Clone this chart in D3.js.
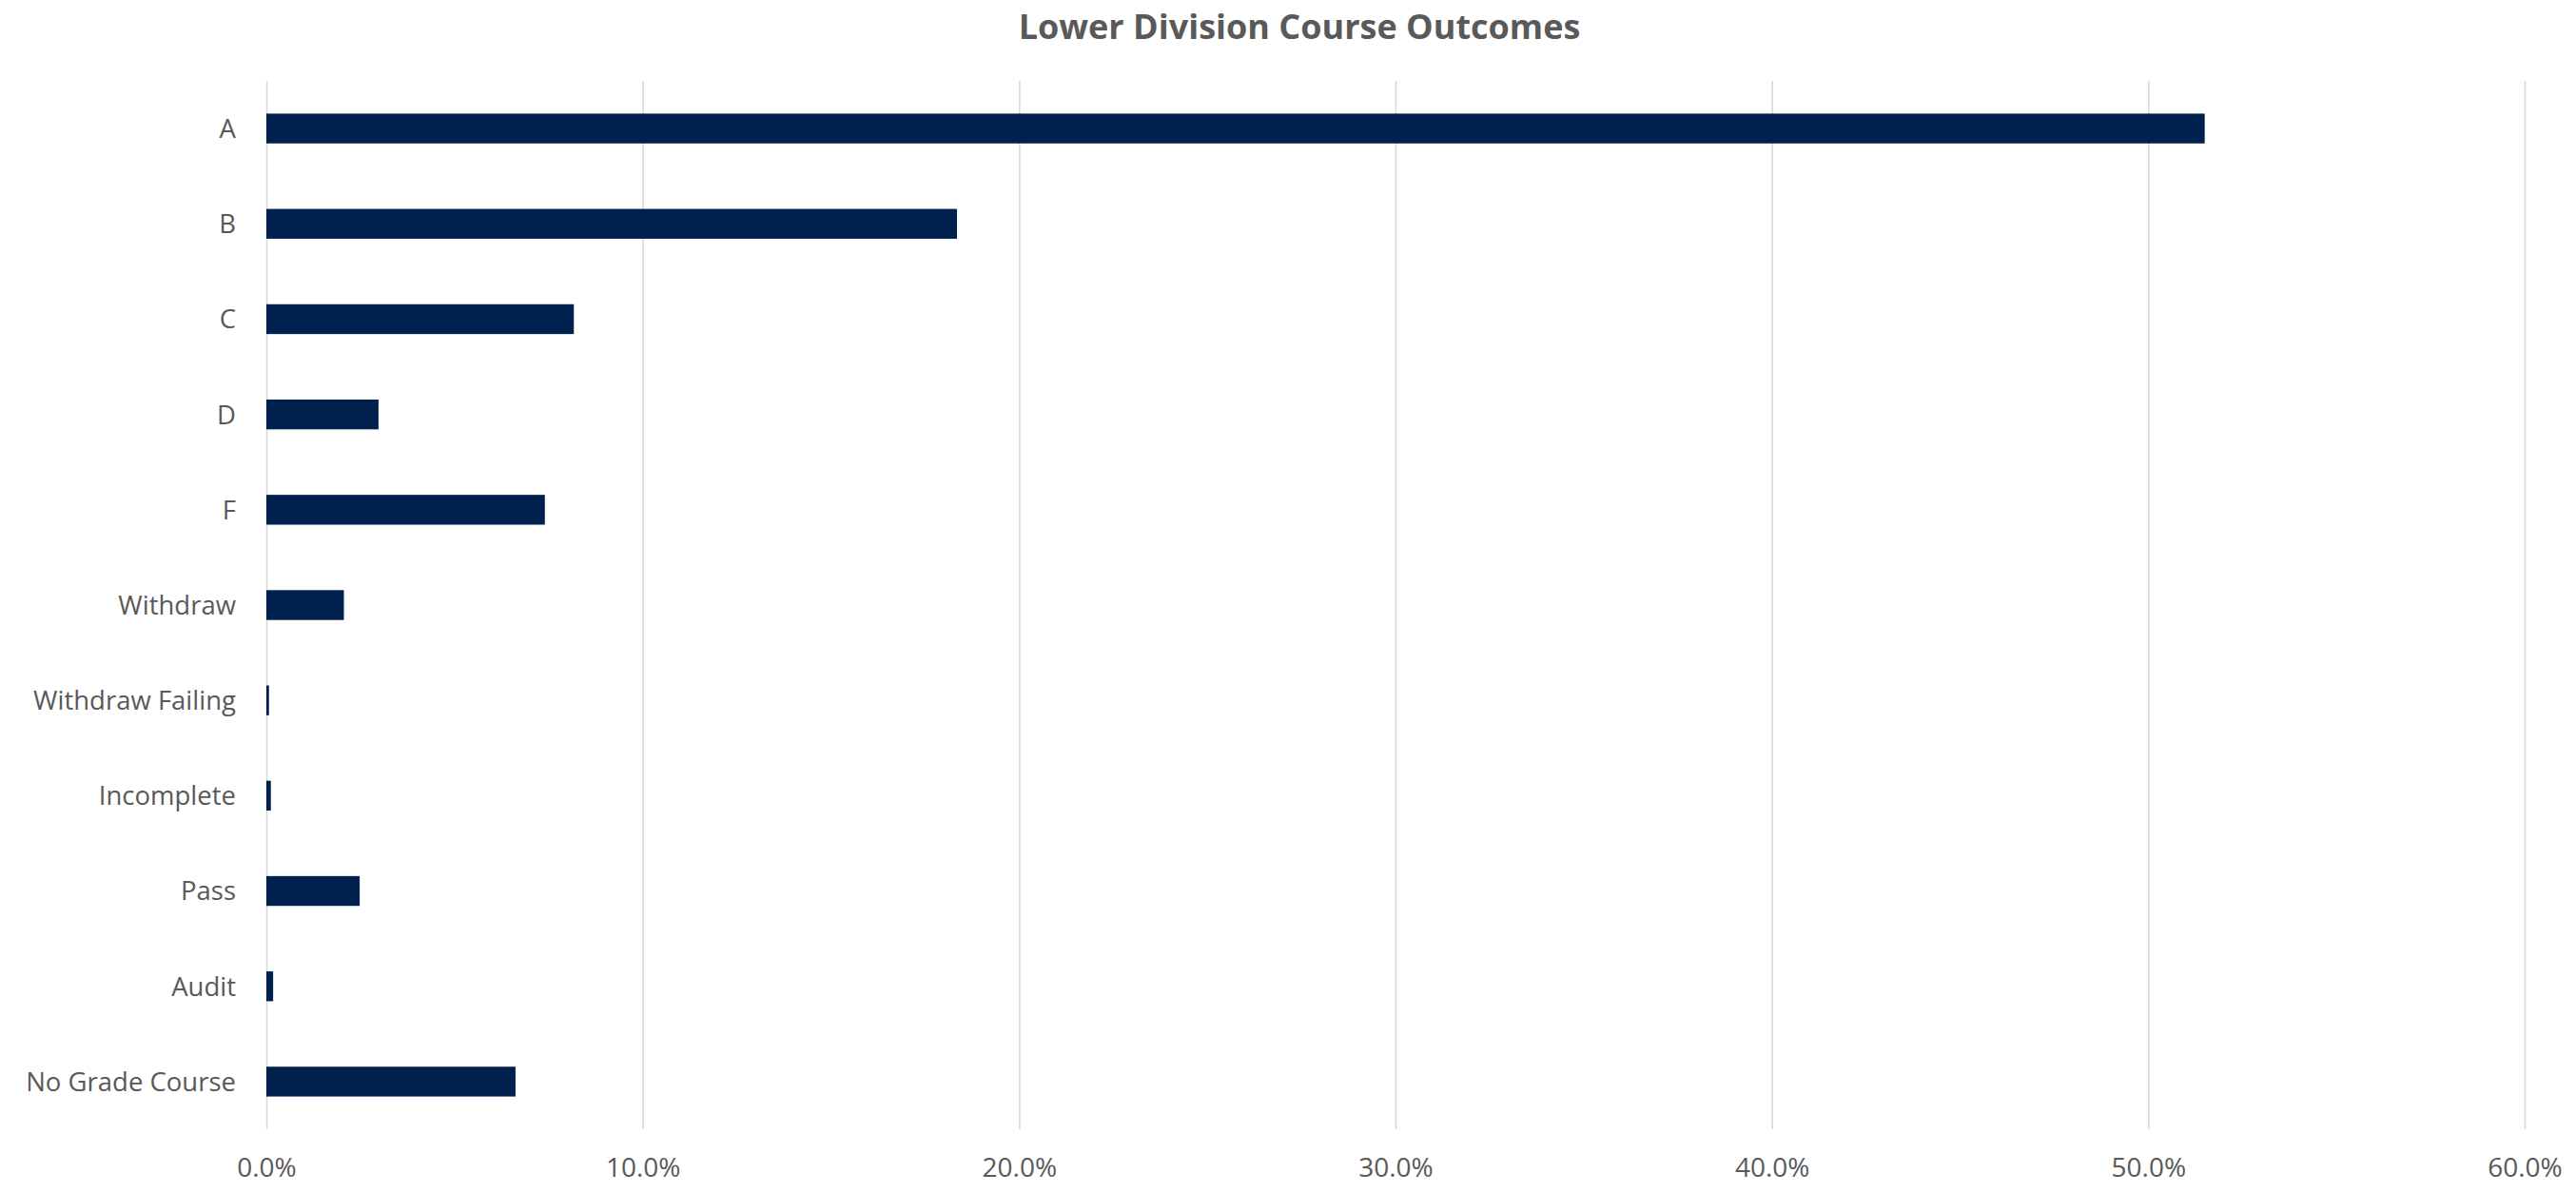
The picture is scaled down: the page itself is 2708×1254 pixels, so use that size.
<!DOCTYPE html>
<html>
<head>
<meta charset="utf-8">
<script src="https://cdn.jsdelivr.net/npm/d3@7"></script>
<style>
  html, body { margin: 0; padding: 0; background: #ffffff; }
  svg { display: block; }
</style>
</head>
<body>
<svg id="chart" width="2708" height="1254"></svg>
<script>
const titleText = "Lower Division Course Outcomes";
const categories = ["A", "B", "C", "D", "F", "Withdraw", "Withdraw Failing", "Incomplete", "Pass", "Audit", "No Grade Course"];
const values = [51.5, 18.35, 8.17, 2.98, 7.40, 2.06, 0.07, 0.12, 2.48, 0.18, 6.62];
const xTicks = [0, 10, 20, 30, 40, 50, 60];

const W = 2708, H = 1254;
const margin = { left: 280, right: 54, top: 85, bottom: 67 };
const svg = d3.select("#chart");

const x = d3.scaleLinear().domain([0, 60]).range([margin.left, W - margin.right]);
const y = d3.scaleBand().domain(categories)
  .range([margin.top, H - margin.bottom])
  .paddingInner(0.687).paddingOuter(0.3435);

const font = "'Open Sans', sans-serif";
const textColor = "#595959";

// title
svg.append("text")
  .attr("x", 1366).attr("y", 41)
  .attr("text-anchor", "middle")
  .style("font-family", font).style("font-weight", "700")
  .style("font-size", "36px").style("fill", textColor)
  .text(titleText);

// x axis with gridlines
const xAxis = d3.axisBottom(x)
  .tickValues(xTicks)
  .tickFormat(d => d.toFixed(1) + "%")
  .tickSizeInner(-(H - margin.bottom - margin.top))
  .tickSizeOuter(0)
  .tickPadding(30);

const gx = svg.append("g")
  .attr("transform", `translate(0,${H - margin.bottom})`)
  .call(xAxis);
gx.select(".domain").remove();
gx.selectAll(".tick line").attr("stroke", "#d9d9d9").attr("stroke-width", 1.6);
gx.selectAll(".tick text")
  .style("font-family", font).style("font-size", "28px").style("fill", textColor);

// bars
svg.append("g").selectAll("rect")
  .data(categories.map((c, i) => ({ c, v: values[i] })))
  .join("rect")
  .attr("x", x(0))
  .attr("y", d => y(d.c))
  .attr("width", d => x(d.v) - x(0))
  .attr("height", y.bandwidth())
  .attr("fill", "#00214e");

// y axis labels
const yAxis = d3.axisLeft(y).tickSize(0).tickPadding(32);
const gy = svg.append("g")
  .attr("transform", `translate(${margin.left},0)`)
  .call(yAxis);
gy.select(".domain").remove();
gy.selectAll(".tick text")
  .attr("dy", "0.36em")
  .style("font-family", font).style("font-size", "27.5px").style("fill", textColor);
</script>
</body>
</html>
